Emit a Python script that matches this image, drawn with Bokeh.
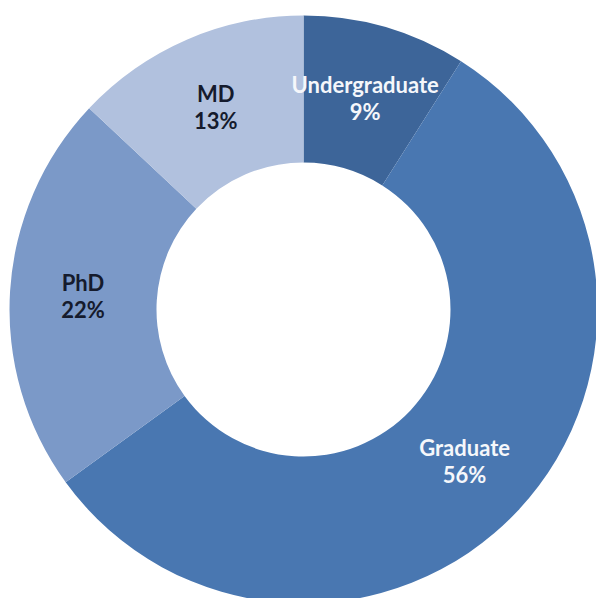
import math
from bokeh.plotting import figure
from bokeh.models import ColumnDataSource, Range1d
from bokeh.core.properties import value
from bokeh.embed import file_html
from bokeh.resources import INLINE

categories = ["Undergraduate", "Graduate", "PhD", "MD"]
shares = [9, 56, 22, 13]
colors = ["#3D6599", "#4977B1", "#7B99C8", "#B1C1DE"]
text_colors = ["#F5F7FB", "#F5F7FB", "#151B2D", "#151B2D"]

W, H = 596, 598
cx, cy = 303, H - 309
r_out, r_in = 294, 147
r_lab = 221

total = sum(shares)
starts, ends, lx, ly, pct = [], [], [], [], []
cum = 0.0
for s in shares:
    a0 = math.pi / 2 - 2 * math.pi * cum / total
    a1 = math.pi / 2 - 2 * math.pi * (cum + s) / total
    starts.append(a0)
    ends.append(a1)
    mid = (a0 + a1) / 2
    lx.append(cx + r_lab * math.cos(mid))
    ly.append(cy + r_lab * math.sin(mid))
    pct.append(f"{s}%")
    cum += s

src = ColumnDataSource(dict(start=starts, end=ends, color=colors, x=[cx] * 4, y=[cy] * 4,
                            lx=lx, ly=ly, name=categories, pct=pct, tcol=text_colors))

p = figure(width=W, height=H, output_backend="svg", toolbar_location=None,
           x_range=Range1d(0, W), y_range=Range1d(0, H), min_border=0)
p.axis.visible = False
p.grid.visible = False
p.outline_line_color = None
p.background_fill_color = "white"

p.annular_wedge(x="x", y="y", inner_radius=r_in, outer_radius=r_out,
                start_angle="start", end_angle="end", direction="clock",
                fill_color="color", line_color=None, source=src)

p.text(x="lx", y="ly", text="name", source=src, y_offset=-13,
       text_align="center", text_baseline="middle", text_color="tcol",
       text_font=value("Lato"), text_font_style="bold", text_font_size="22px")
p.text(x="lx", y="ly", text="pct", source=src, y_offset=14,
       text_align="center", text_baseline="middle", text_color="tcol",
       text_font=value("Lato"), text_font_style="bold", text_font_size="22px")

open("out.html", "w").write(file_html(p, INLINE))
